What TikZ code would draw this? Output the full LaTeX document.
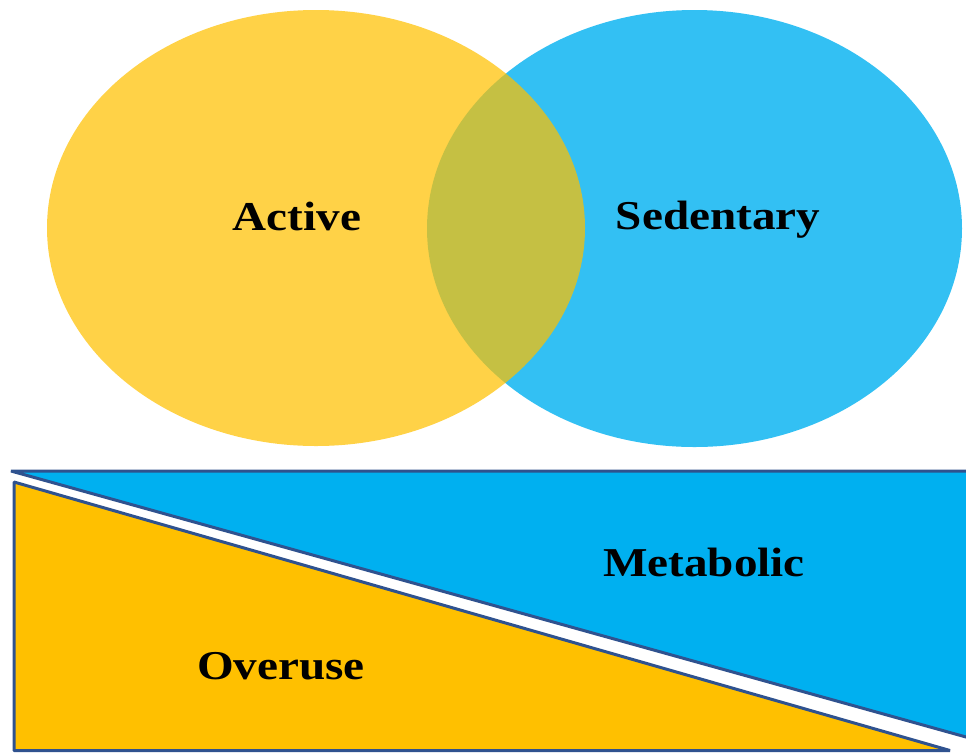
\documentclass[tikz,border=0pt]{standalone}
\usepackage{fontspec}
\setmainfont{Liberation Serif}
\definecolor{goldfill}{HTML}{FFC000}
\definecolor{skyfill}{HTML}{00B0F0}
\definecolor{edgeblue}{RGB}{47,82,143}
\tikzset{
  label text/.style={font=\fontsize{41}{41}\selectfont\bfseries, text=black,
    anchor=base, xscale=1.15, inner sep=0pt},
  wedge/.style={draw=edgeblue, line width=3pt, line join=bevel}
}
\begin{document}
\begin{tikzpicture}[x=1pt, y=-1pt]
\useasboundingbox (0,0) rectangle (966,753);
\begin{scope}
\clip (0,0) rectangle (966,753);
% Venn circles: blue first, yellow laid over it
\fill[skyfill, fill opacity=0.8] (694.5,228.5) ellipse [x radius=267.5, y radius=218.5];
\fill[goldfill, fill opacity=0.72] (316,228) ellipse [x radius=269, y radius=218];
% lower panel: two wedges split by a white diagonal gap
\filldraw[wedge, fill=skyfill] (11,471) -- (975,471) -- (975,739.5) -- cycle;
\filldraw[wedge, fill=goldfill] (14,482) -- (14,750.5) -- (950,750.5) -- cycle;
\end{scope}
\node[label text] (active) at (297,230) {Active};
\node[label text] (sedentary) at (718,229) {Sedentary};
\node[label text] (metabolic) at (704,576) {Metabolic};
\node[label text] (overuse) at (281,679) {Overuse};
\end{tikzpicture}
\end{document}
